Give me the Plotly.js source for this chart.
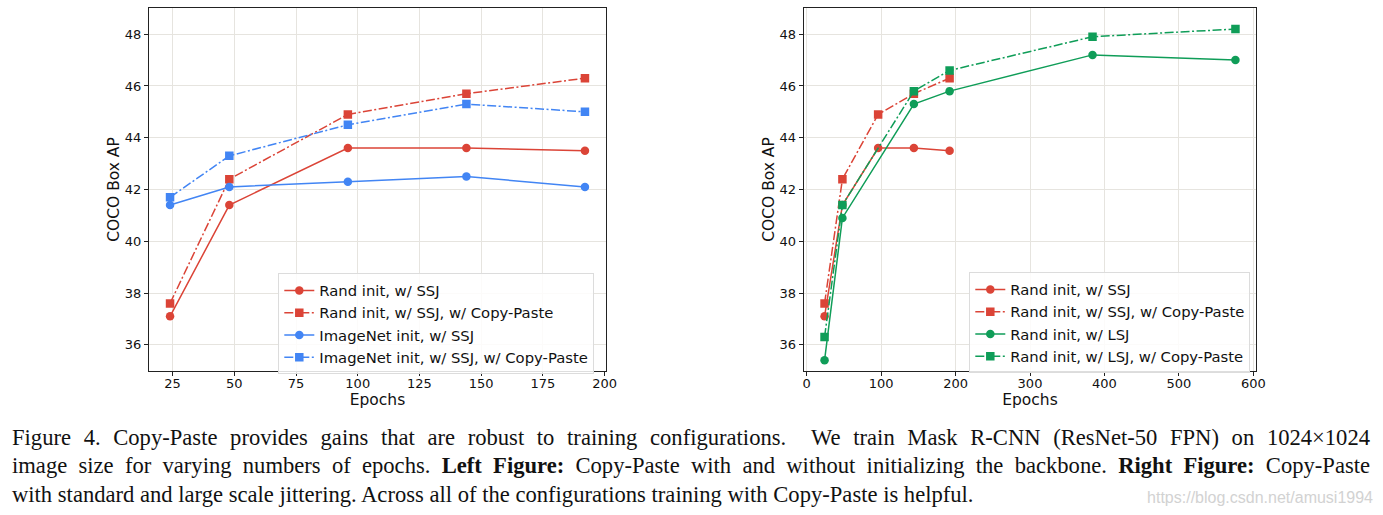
<!DOCTYPE html>
<html>
<head>
<meta charset="utf-8">
<script src="https://cdn.plot.ly/plotly-3.0.1.min.js"></script>
<style>
  html, body { margin: 0; padding: 0; background: #fff; }
  #wrap { position: relative; width: 1383px; height: 515px; overflow: hidden; }
  #chart { position: absolute; left: 0; top: 0; width: 1383px; height: 515px; }
  #caption {
    position: absolute; left: 12px; top: 424px; width: 1358px;
    font-family: "Liberation Serif", "Times New Roman", serif;
    font-size: 22.6px; line-height: 28.4px; color: #111;
  }
  #caption .j { text-align: justify; text-align-last: justify; white-space: nowrap; }
  #caption .l { text-align: left; white-space: nowrap; }
  #watermark {
    position: absolute; right: 10px; top: 489px;
    font-family: "Liberation Sans Narrow", "Liberation Sans", Arial, sans-serif;
    font-size: 16px; color: #d2d2d2;
  }
</style>
</head>
<body>
<div id="wrap">
  <div id="chart"></div>
  <div id="caption">
    <div class="j">Figure 4. Copy-Paste provides gains that are robust to training configurations.&nbsp; We train Mask R-CNN (ResNet-50 FPN) on 1024×1024</div>
    <div class="j">image size for varying numbers of epochs. <b>Left Figure:</b> Copy-Paste with and without initializing the backbone. <b>Right Figure:</b> Copy-Paste</div>
    <div class="l">with standard and large scale jittering. Across all of the configurations training with Copy-Paste is helpful.</div>
  </div>
  <div id="watermark">https://blog.csdn.net/amusi1994</div>
</div>
<script>
// ---- data ----
const epochsSSJ = [24, 48, 96, 144, 192];
const randSSJ = [37.1, 41.4, 43.6, 43.6, 43.5];
const randSSJCopyPaste = [37.6, 42.4, 44.9, 45.7, 46.3];
const imagenetSSJ = [41.4, 42.1, 42.3, 42.5, 42.1];
const imagenetSSJCopyPaste = [41.7, 43.3, 44.5, 45.3, 45.0];
const epochsLSJ = [24, 48, 144, 192, 384, 576];
const randLSJ = [35.4, 40.9, 45.3, 45.8, 47.2, 47.0];
const randLSJCopyPaste = [36.3, 41.4, 45.8, 46.6, 47.9, 48.2];

const namesLeft = ["Rand init, w/ SSJ", "Rand init, w/ SSJ, w/ Copy-Paste",
                   "ImageNet init, w/ SSJ", "ImageNet init, w/ SSJ, w/ Copy-Paste"];
const namesRight = ["Rand init, w/ SSJ", "Rand init, w/ SSJ, w/ Copy-Paste",
                    "Rand init, w/ LSJ", "Rand init, w/ LSJ, w/ Copy-Paste"];

const RED = "#db4437", BLUE = "#4285f4", GREEN = "#0f9d58";
const DASHDOT = "9px,2.5px,2px,2.5px";

function tr(x, y, name, color, cp, xa, ya, leg) {
  return {
    x: x, y: y, name: name, type: "scatter", mode: "lines+markers",
    xaxis: xa, yaxis: ya, legend: leg,
    line: { color: color, width: 1.5, dash: cp ? DASHDOT : "solid" },
    marker: { color: color, size: 8.5, symbol: cp ? "square" : "circle" }
  };
}

const data = [
  tr(epochsSSJ, randSSJ, namesLeft[0], RED, false, "x", "y", "legend"),
  tr(epochsSSJ, randSSJCopyPaste, namesLeft[1], RED, true, "x", "y", "legend"),
  tr(epochsSSJ, imagenetSSJ, namesLeft[2], BLUE, false, "x", "y", "legend"),
  tr(epochsSSJ, imagenetSSJCopyPaste, namesLeft[3], BLUE, true, "x", "y", "legend"),
  tr(epochsSSJ, randSSJ, namesRight[0], RED, false, "x2", "y2", "legend2"),
  tr(epochsSSJ, randSSJCopyPaste, namesRight[1], RED, true, "x2", "y2", "legend2"),
  tr(epochsLSJ, randLSJ, namesRight[2], GREEN, false, "x2", "y2", "legend2"),
  tr(epochsLSJ, randLSJCopyPaste, namesRight[3], GREEN, true, "x2", "y2", "legend2")
];

const W = 1383, H = 515;
const tickFont = { family: "DejaVu Sans", size: 13, color: "#111" };
const titleFont = { family: "DejaVu Sans", size: 15.5, color: "#111" };

function xax(domain, range, dtick) {
  return {
    domain: domain, range: range, dtick: dtick, tick0: 0,
    showgrid: true, gridcolor: "#e6e4df", gridwidth: 1, zeroline: false,
    showline: true, mirror: true, linecolor: "#222", linewidth: 1.3,
    ticks: "outside", ticklen: 4, tickwidth: 1, tickcolor: "#222",
    ticklabelstandoff: -4,
    tickfont: tickFont, title: { text: "Epochs", font: titleFont, standoff: 0 }
  };
}
function yax(domain, anchor) {
  return {
    domain: domain, range: [35, 49], dtick: 2, tick0: 0, anchor: anchor,
    showgrid: true, gridcolor: "#e6e4df", gridwidth: 1, zeroline: false,
    showline: true, mirror: true, linecolor: "#222", linewidth: 1.3,
    ticks: "outside", ticklen: 4, tickwidth: 1, tickcolor: "#222",
    tickfont: tickFont, title: { text: "COCO Box AP", font: titleFont, standoff: 1 }
  };
}
const yDom = [1 - 370.7 / H, 1 - 8.3 / H];
const leg = {
  bgcolor: "rgba(255,255,255,0.85)", bordercolor: "#dcdcdc", borderwidth: 1,
  font: { family: "DejaVu Sans", size: 14.8, color: "#111" },
  xanchor: "left", yanchor: "top", tracegroupgap: 0, itemwidth: 30
};

const layout = {
  width: W, height: H,
  margin: { l: 0, r: 0, t: 0, b: 0 },
  paper_bgcolor: "#fff", plot_bgcolor: "#fff",
  showlegend: true,
  xaxis: Object.assign(xax([149.3 / W, 605.7 / W], [15.6, 200.4], 25), { anchor: "y" }),
  yaxis: yax(yDom, "x"),
  xaxis2: Object.assign(xax([804 / W, 1256 / W], [-3.6, 603.6], 100), { anchor: "y2" }),
  yaxis2: yax(yDom, "x2"),
  legend: Object.assign({}, leg, { x: 278.3 / W, y: 1 - 273.3 / H }),
  legend2: Object.assign({}, leg, { x: 969.3 / W, y: 1 - 272.3 / H })
};

Plotly.newPlot("chart", data, layout, { displayModeBar: false, staticPlot: true });
</script>
</body>
</html>
